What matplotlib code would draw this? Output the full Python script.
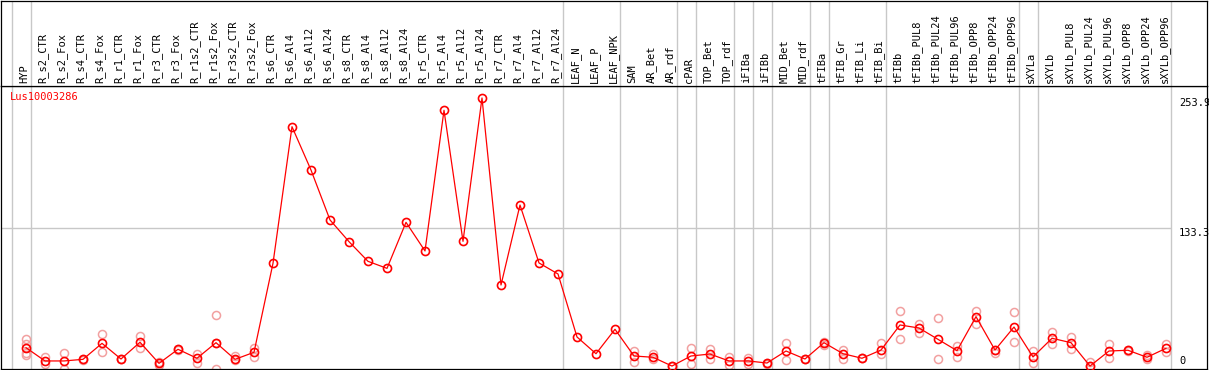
import matplotlib
matplotlib.use('Agg')
import matplotlib.pyplot as plt
import matplotlib.transforms as mtransforms

gene = 'Lus10003286'

samples = ['HYP', 'R_s2_CTR', 'R_s2_Fox', 'R_s4_CTR', 'R_s4_Fox', 'R_r1_CTR', 'R_r1_Fox',
           'R_r3_CTR', 'R_r3_Fox', 'R_r1s2_CTR', 'R_r1s2_Fox', 'R_r3s2_CTR', 'R_r3s2_Fox',
           'R_s6_CTR', 'R_s6_Al4', 'R_s6_Al12', 'R_s6_Al24', 'R_s8_CTR', 'R_s8_Al4',
           'R_s8_Al12', 'R_s8_Al24', 'R_r5_CTR', 'R_r5_Al4', 'R_r5_Al12', 'R_r5_Al24',
           'R_r7_CTR', 'R_r7_Al4', 'R_r7_Al12', 'R_r7_Al24', 'LEAF_N', 'LEAF_P', 'LEAF_NPK',
           'SAM', 'AR_Bet', 'AR_rdf', 'cPAR', 'TOP_Bet', 'TOP_rdf', 'iFIBa', 'iFIBb',
           'MID_Bet', 'MID_rdf', 'tFIBa', 'tFIB_Gr', 'tFIB_Li', 'tFIB_Bi', 'tFIBb',
           'tFIBb_PUL8', 'tFIBb_PUL24', 'tFIBb_PUL96', 'tFIBb_OPP8', 'tFIBb_OPP24',
           'tFIBb_OPP96', 'sXYLa', 'sXYLb', 'sXYLb_PUL8', 'sXYLb_PUL24', 'sXYLb_PUL96',
           'sXYLb_OPP8', 'sXYLb_OPP24', 'sXYLb_OPP96']

# mean expression per sample
means = [22.8, 10.5, 10.5, 12.0, 26.8, 12.3, 27.8, 8.3, 21.3, 13.0, 27.4, 12.0, 18.5,
         100.9, 227.3, 187.2, 141.0, 120.9, 102.7, 96.2, 138.8, 112.3, 242.5, 121.2, 253.9,
         80.8, 154.8, 101.2, 91.0, 32.7, 17.2, 39.8,
         15.1, 13.9, 5.8, 15.1, 16.9, 10.5, 10.5, 8.6, 19.7, 12.3, 27.4, 17.2, 13.0, 20.6,
         43.8, 41.0, 30.5, 20.0, 51.5, 20.6, 41.9, 14.2, 31.5, 27.4, 5.8, 19.7, 20.4,
         13.9, 22.2]

# individual replicates (faint circles)
reps = [[31, 26, 18, 16], [14.4, 7.4], [18.1, 2.8], [12.6, 11], [35.2, 19.1], [12.5, 12],
        [33.6, 22.2], [9.3, 6.3], [21.5, 21], [16.7, 8.9], [52.7, 26.7, 2.8], [15.1, 11],
        [22.8, 14.4],
        [], [], [], [], [], [], [], [], [], [], [], [], [], [], [], [], [], [], [],
        [20, 9.8], [16.7, 12], [6, 5.5], [22.2, 7.4], [21.3, 12.6], [14.4, 6.3],
        [13.5, 7.4], [9, 8], [27.1, 11.7], [12.5, 12], [28.5, 25], [20.6, 12.3], [13.5, 12.8],
        [27.4, 16.7], [56.7, 30.8], [45, 36.7], [50, 12], [24, 14.4], [57, 44.7], [18, 21],
        [55.5, 27.8], [20, 8.3], [37, 25.9], [32.4, 21.3], [9.8, 5.5], [26.2, 13.5],
        [20.8, 20], [15.7, 12], [25.9, 18.8]]

# index of the last sample in each group (group separators)
group_ends = [-1, 0, 28, 31, 34, 35, 37, 38, 39, 41, 42, 45, 52, 53, 60]

ymax_label = 253.9
ymid_label = 133.3

W, H = 1209, 370
fig = plt.figure(figsize=(W / 100, H / 100), dpi=100)

# pixel-layout helpers
x0px, dxpx = 26, 19
left_px, right_px = 0.5, 1206.5
top_px, head_px, bot_px = 0.5, 86, 369
xlim = ((left_px - x0px) / dxpx, (right_px - x0px) / dxpx)
y0px, scale = 372.3, 1.0805
ylim = ((y0px - bot_px) / scale, (y0px - head_px) / scale)

ax = fig.add_axes([left_px / W, 1 - bot_px / H, (right_px - left_px) / W, (bot_px - head_px) / H])
hx = fig.add_axes([left_px / W, 1 - head_px / H, (right_px - left_px) / W, (head_px - top_px) / H])

font = dict(family='DejaVu Sans Mono', size=7.5)
red = '#ff0000'
pink = '#f2a0a0'
grey = '#c8c8c8'

for a in (ax, hx):
    a.set_xlim(xlim)
    a.set_xticks([])
    a.set_yticks([])
    for s in a.spines.values():
        s.set_color('black')
        s.set_linewidth(0.9)
    for g in group_ends:
        a.axvline(g + 0.25, color=grey, lw=1.0, zorder=0)

ax.set_ylim(ylim)
hx.set_ylim(0, 1)

ax.hlines(ymid_label, xlim[0], group_ends[-1] + 0.25, color=grey, lw=1.0, zorder=0)

x = list(range(len(samples)))
for i, r in enumerate(reps):
    if r:
        ax.plot([i] * len(r), r, 'o', ms=5.8, mfc='none', mec=pink, mew=1.1,
                clip_on=False, zorder=2)
ax.plot(x, means, '-', color=red, lw=0.9, zorder=3, clip_on=False)
ax.plot(x, means, 'o', ms=5.8, mfc='none', mec=red, mew=1.2, zorder=4, clip_on=False)

for i, s in enumerate(samples):
    hx.text(i - 0.1, (head_px - 83) / (head_px - top_px), s, rotation=90,
            ha='center', va='bottom', color='black', **font)

ax.text(9 / (right_px - left_px), 1 - (97 - head_px) / (bot_px - head_px), gene,
        transform=ax.transAxes, color=red, va='center', ha='left', **font)

lab_x = (1179 - x0px) / dxpx
ax.text(lab_x, ymax_label, '253.9', va='top', ha='left', **font)
ax.text(lab_x, ymid_label, '133.3', va='top', ha='left', **font)
tr = mtransforms.blended_transform_factory(ax.transData, ax.transAxes)
ax.text(lab_x, 0.01, '0', transform=tr, va='bottom', ha='left', **font)

fig.savefig('out.png', dpi=100)
